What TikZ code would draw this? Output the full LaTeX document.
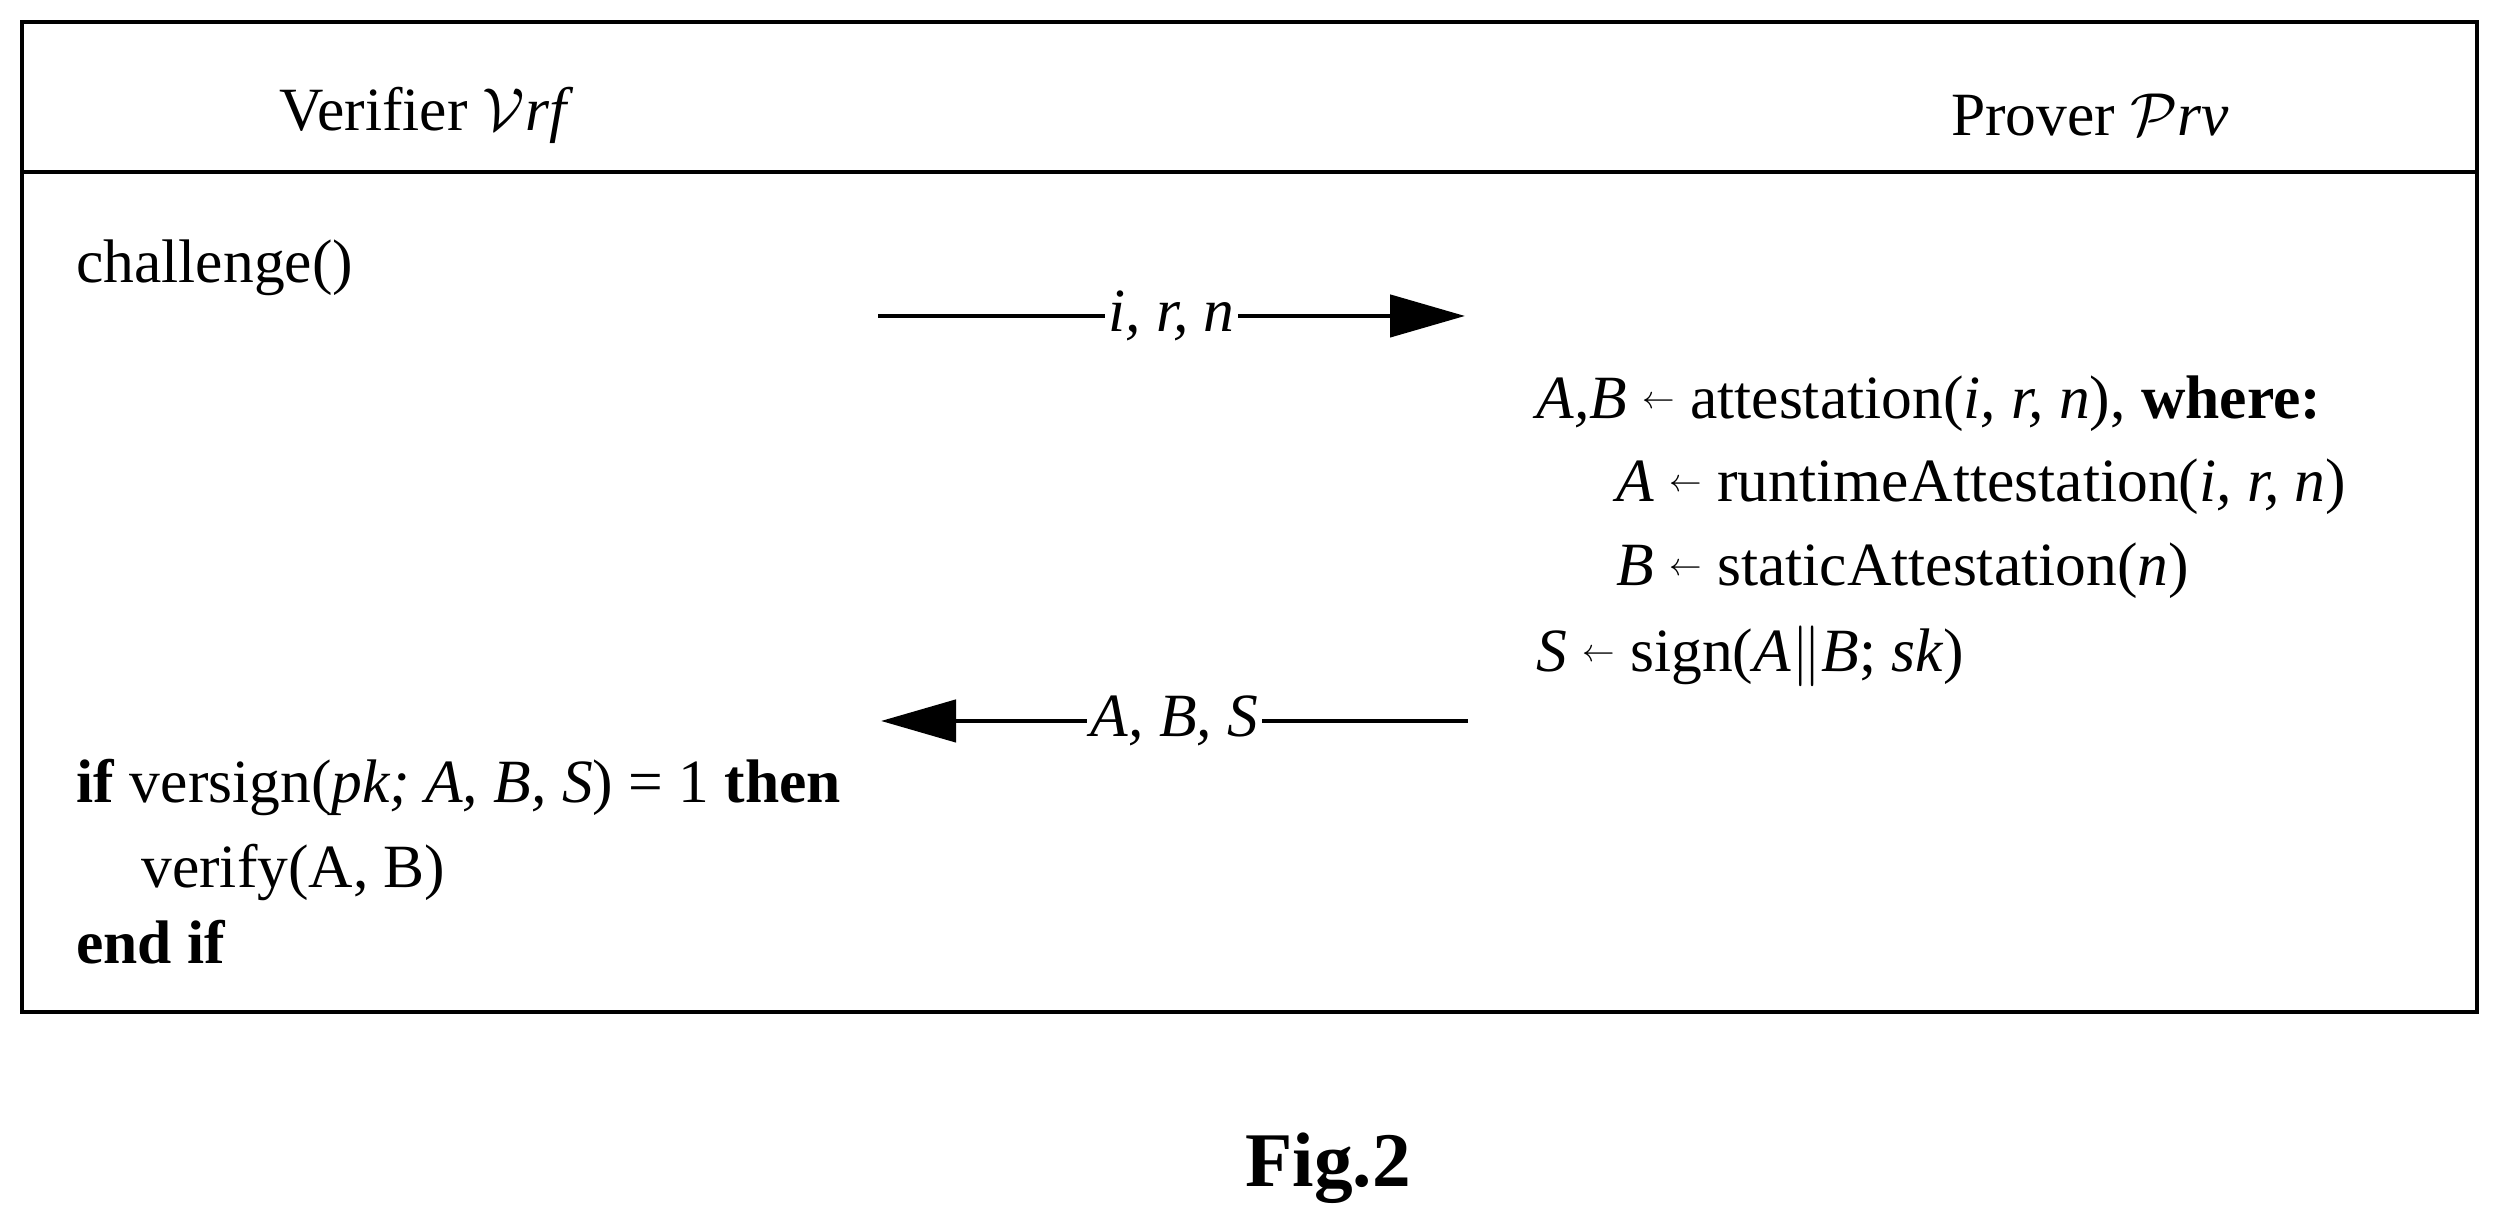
\documentclass[tikz,border=0pt]{standalone}
\usepackage{amsmath}
\usepackage{amssymb}
\usepackage{fontspec}
\setmainfont{Liberation Serif}
\usetikzlibrary{positioning,arrows.meta}

\newcommand{\getsarrow}{\ \raisebox{0.35ex}{\small$\leftarrow$}\ }

\begin{document}
\begin{tikzpicture}[>={Triangle[length=0.75cm,width=0.42cm]},thick,
	txt/.style={anchor=west,inner sep=0pt,font=\fontsize{17.5}{20}\selectfont},
	msg/.style={fill=white,inner sep=1pt,font=\fontsize{17.5}{20}\selectfont\itshape}]
	
	\useasboundingbox (0,0) rectangle (25.03,12.31);
	\draw[line width=1.2pt] (0.22,2.19) rectangle (24.77,12.09);
	\draw[line width=1.2pt] (0.22,10.59) -- (24.77,10.59);
	
	\node[font=\fontsize{17.5}{20}\selectfont] (vrf) at (4.23,11.16) {Verifier $\mathcal{V}\mathit{rf}$};
	\node[font=\fontsize{17.5}{20}\selectfont] (prv) at (20.9,11.16) {Prover $\mathcal{P}\mathit{rv}$};
	
	\node[txt] (chal) at (0.75,9.63) {challenge()};
	
	\coordinate (a1) at (8.78,9.15);
	\coordinate (b1) at (14.65,9.15);
	\draw[->,line width=1.3pt] (a1) -- node[msg] {i, r, n} (b1);
	
	\node[txt] (att) at (15.35,8.27) {\textit{A,B}\getsarrow attestation(\textit{i, r, n}), \textbf{where:}};
	\node[txt] (run) at (16.15,7.44) {\textit{A}\getsarrow runtimeAttestation(\textit{i, r, n})};
	\node[txt] (sta) at (16.15,6.60) {\textit{B}\getsarrow staticAttestation(\textit{n})};
	\node[txt] (sig) at (15.35,5.75) {\textit{S}\getsarrow sign(\textit{A}$\|$\textit{B}; \textit{sk})};
	
	\coordinate (a2) at (14.68,5.10);
	\coordinate (b2) at (8.81,5.10);
	\draw[->,line width=1.3pt] (a2) -- node[msg] {A, B, S} (b2);
	
	\node[txt] (ver) at (0.75,4.43) {\textbf{if} versign(\textit{pk; A, B, S}) = 1 \textbf{then}};
	\node[txt] (vfy) at (1.40,3.58) {verify(A, B)};
	\node[txt] (endif) at (0.75,2.89) {\textbf{end if}};
	
	\node[font=\fontsize{22}{26}\selectfont\bfseries] (fig) at (13.28,0.63) {Fig.2};
	
\end{tikzpicture}
\end{document}
